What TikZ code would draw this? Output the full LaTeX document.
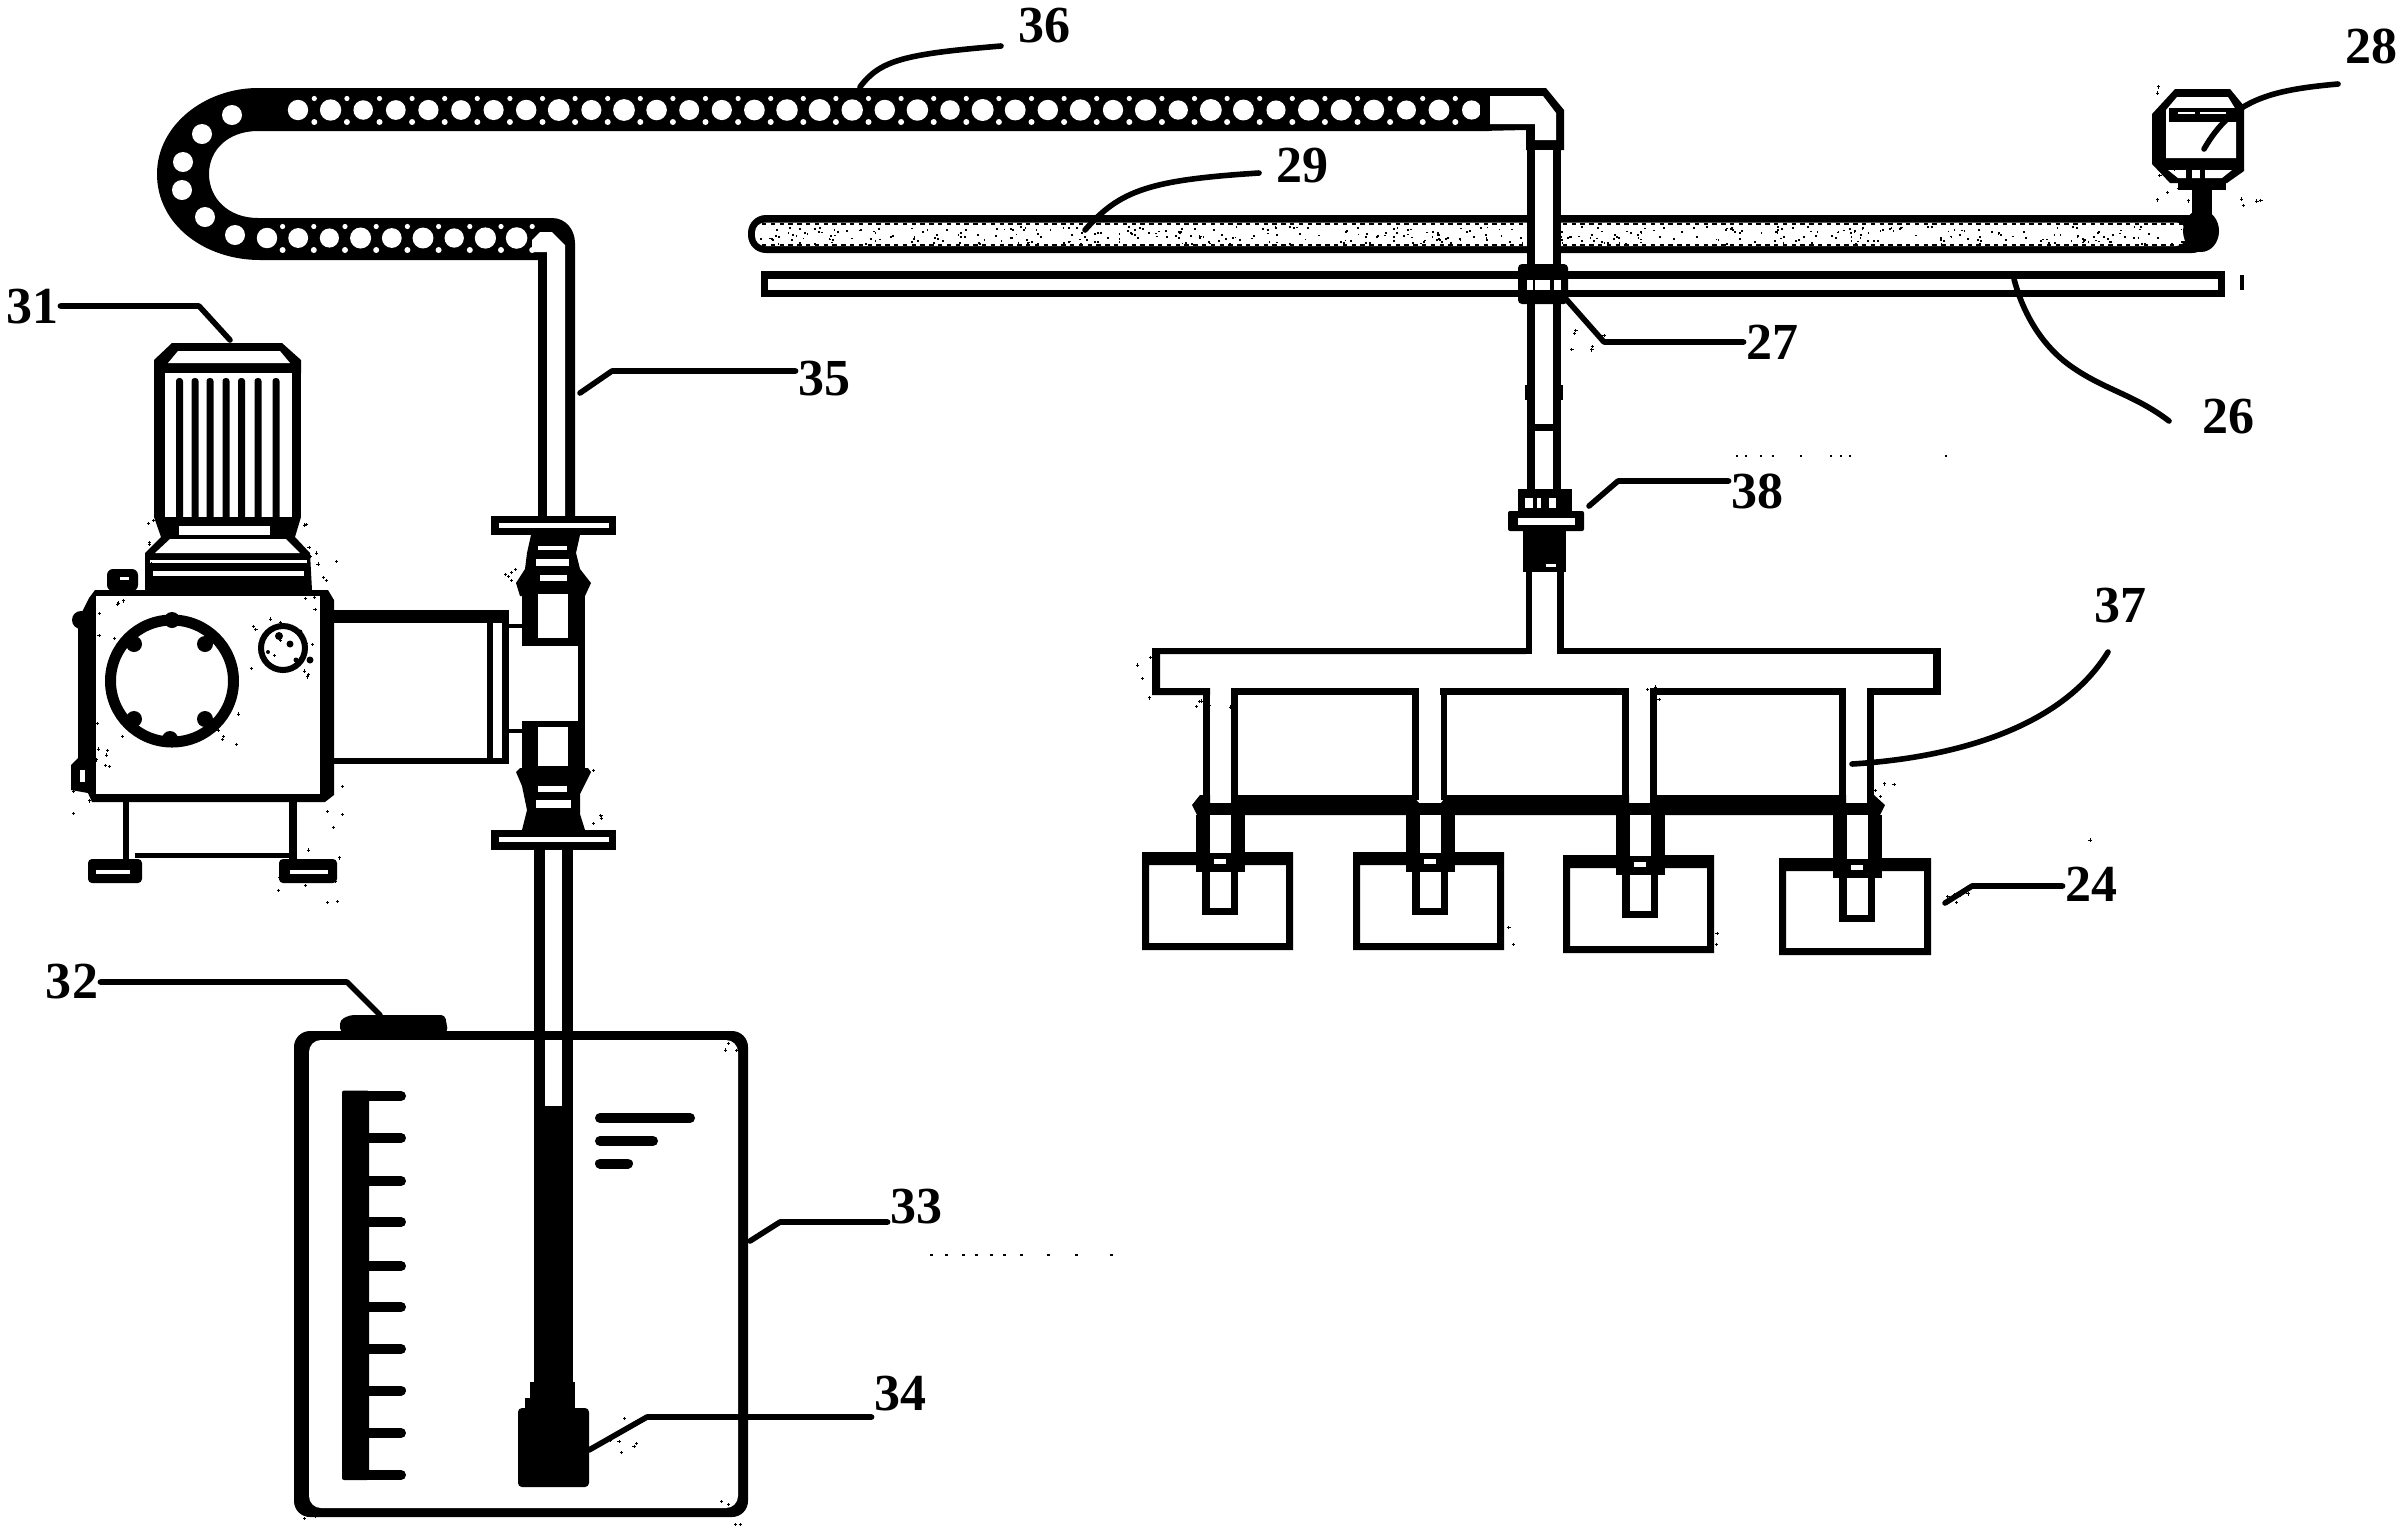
\documentclass[tikz,border=0pt]{standalone}
\usepackage{fontspec}
\setmainfont{Liberation Serif}
\newcommand{\blk}[4]{\fill[black] (#1,#2) rectangle (#3,#4);}
\newcommand{\wht}[4]{\fill[white] (#1,#2) rectangle (#3,#4);}
\newcommand{\specks}[5]{\foreach \i in {1,...,#5}{\pgfmathsetmacro\sx{#1+rnd*(#3-#1)}\pgfmathsetmacro\sy{#2+rnd*(#4-#2)}\fill[black] (\sx-1.6,\sy-.5) rectangle +(3.2,1);\fill[black] (\sx-.5,\sy-1.6) rectangle +(1,3.2);}}
\newcommand{\holes}[5]{\foreach \k in {0,...,#4}{\pgfmathsetmacro\hx{#1+\k*#3}\pgfmathsetmacro\hr{#5-1.5*rnd}\fill[white] (\hx,#2) circle[radius=\hr];\fill[white] (\hx+.5*#3,#2-11.5) circle[radius=2.6];\fill[white] (\hx+.5*#3,#2+12) circle[radius=3];}}
\newcommand{\unit}[6]{% box and dip tube: box x0 x1 ytop, ybottom, stem centre, stem bottom
\fill[black,even odd rule] (#1,#2) rectangle (#3,#4) (#1+7,#2+13) rectangle (#3-7,#4-7);
\blk{#5-24.5}{815}{#5+24.5}{#2+1}
\wht{#5-10.5}{815}{#5+10.5}{#2+1}
\blk{#5-24.5}{#2+12}{#5+24.5}{#2+20}
\blk{#5-18}{#2+20}{#5+18}{#6}
\wht{#5-10.5}{#2+20}{#5+10.5}{#6-7}
\blk{#5-10.5}{#2+1}{#5+10.5}{#2+20}
\wht{#5-6}{#2+7}{#5+6}{#2+12}
}
\tikzset{
  leader/.style={line width=2.8pt,black,line join=round,line cap=round},
  lab/.style={font=\fontsize{26}{26}\selectfont\bfseries,inner sep=1pt,text=black}
}
\begin{document}
\begin{tikzpicture}[x=0.5pt,y=-0.5pt]
\useasboundingbox (0,0) rectangle (2402,1538);
\fill[white] (0,0) rectangle (2402,1538);
\pgfmathsetseed{41}

%%% tank 33
\fill[black,even odd rule,rounded corners=8pt] (294,1031) rectangle (748,1517);
\fill[white,rounded corners=6pt] (309,1040) rectangle (738,1508);
\fill[black,rounded corners=2pt] (340,1032) -- (340,1020) -- (350,1015) -- (445,1015) -- (448,1032) -- cycle;
% scale
\fill[black,rounded corners=1pt] (342,1090.5) rectangle (369,1480);
\foreach \yy in {1096,1138,1181,1222,1266,1307,1349,1390.5,1433,1475}{\draw[black,line width=5pt,line cap=round] (365,\yy) -- (401,\yy);}
% liquid level
\draw[black,line width=5pt,line cap=round] (600,1118) -- (690,1118);
\draw[black,line width=5pt,line cap=round] (600,1141) -- (653,1141);
\draw[black,line width=5pt,line cap=round] (600,1163.5) -- (628,1163.5);
% suction pipe
\blk{534}{850}{573}{1382}
\wht{545}{850}{562}{1106}
\blk{534}{1031}{573}{1040}
\blk{530}{1382}{575}{1408}
\fill[black,rounded corners=2pt] (518,1487) rectangle (589,1408);
\blk{525}{1398}{530}{1410}

%%% drag chain 36 + pipe 35
\fill[black] (1489,88) -- (258,88) .. controls (205,88) and (157,125) .. (157,174)
  .. controls (157,225) and (205,260) .. (260,260) -- (538,260) -- (538,516) -- (575,516) -- (575,243) .. controls (575,230) and (566,218) .. (552,218)
  -- (258,218) .. controls (228,218) and (209,198) .. (209,174) .. controls (209,150) and (228,131) .. (258,131) -- (1489,131) -- cycle;
\fill[white] (532,240) -- (540,232) -- (552,232) -- (565,245) -- (565,516) -- (547,516) -- (547,252) -- (532,252) -- cycle;
\holes{298}{110}{32.6}{36}{11}
\holes{267}{238}{31.2}{8}{11}
\foreach \px/\py in {232/115,202/134,183/162,182/190,205/217,235/235}{\fill[white] (\px,\py) circle[radius=10];}
% elbow at upper right
\fill[black] (1480,88) -- (1546,88) -- (1564,110) -- (1564,150) -- (1526,150) -- (1526,130) -- (1480,131) -- cycle;
\fill[white] (1490,96) -- (1543,96) -- (1556,113) -- (1556,140) -- (1535,140) -- (1535,124) -- (1490,124) -- cycle;

%%% tube 29
\fill[black,rounded corners=9pt] (748,215) rectangle (2210,253);
\fill[white,rounded corners=5pt] (755,222.5) rectangle (2186,246);
\draw[black,line width=1pt,dash pattern=on 2.2pt off 2.2pt] (762,223.5) -- (2184,223.5);
\draw[black,line width=1pt,dash pattern=on 2.2pt off 2.2pt] (762,245) -- (2184,245);
\foreach \i in {1,...,420}{\pgfmathsetmacro\sx{760+rnd*1424}\pgfmathsetmacro\sy{226+rnd*17}\fill[black] (\sx,\sy) rectangle +(1.8,1.8);}
\fill[black] (2201,231) ellipse[x radius=18,y radius=21];

%%% rail 26
\draw[black,line width=3.6pt] (764.5,275) rectangle (2221.5,293.5);

%%% vertical pipe down to the manifold
\wht{1527}{150}{1561}{648}
\blk{1527}{150}{1535}{535}
\blk{1553}{150}{1561}{535}
\blk{1527}{424}{1561}{431}
\blk{1525}{385}{1535}{400}
\blk{1553}{385}{1563}{400}
\blk{1526}{535}{1532}{654}
\blk{1557}{535}{1564}{654}

% block 27
\fill[black,rounded corners=2pt] (1518,264) rectangle (1568,304);
\wht{1527}{280}{1533}{290}
\wht{1535}{280}{1550}{290}
\wht{1554}{280}{1561}{290}

% fitting 38
\blk{1518}{489}{1572}{511}
\wht{1525}{498}{1533}{508}
\wht{1537}{498}{1541}{508}
\wht{1549}{498}{1556}{508}
\fill[black,rounded corners=1pt] (1508,511) rectangle (1584,531);
\wht{1518}{518}{1575}{525}
\blk{1523}{531}{1566}{572}
\wht{1546}{564}{1556}{567}

%%% instrument 28
\fill[black] (2175,89) -- (2230,89) -- (2244,106) -- (2244,171) -- (2227,183) -- (2170,183) -- (2152,164) -- (2152,114) -- cycle;
\fill[white] (2177,97) -- (2228,97) -- (2236,110) -- (2236,158) -- (2166,158) -- (2166,110) -- cycle;
\blk{2169}{108}{2238}{122}
\wht{2178}{112}{2195}{114}\wht{2200}{112}{2226}{114}
\fill[white] (2168,170) -- (2232,170) -- (2222,178) -- (2178,178) -- cycle;
\blk{2186}{168}{2192}{182}\blk{2200}{168}{2205}{182}
\blk{2178}{183}{2226}{190}
\blk{2192}{183}{2212}{215}

%%% manifold
\fill[black] (1152,648) -- (1526,648) -- (1526,654) -- (1160,654) -- (1160,688) -- (1210,688) -- (1210,695) -- (1160,695) -- (1152,695) -- cycle;
\blk{1152}{688}{1203}{695}
\blk{1231}{688}{1419}{695}
\blk{1441}{688}{1629}{695}
\blk{1650}{688}{1846}{695}
\blk{1867}{688}{1941}{695}
\blk{1564}{648}{1941}{654}
\blk{1933}{648}{1941}{695}
\foreach \sl in {1203,1412,1622,1839}{
  \blk{\sl}{688}{\sl+7}{800}
  \blk{\sl+28}{688}{\sl+35}{800}
}
\wht{1210}{695}{1231}{803}
\wht{1419}{695}{1441}{803}
\wht{1629}{695}{1650}{803}
\wht{1846}{695}{1867}{803}
% cross bar
\fill[black] (1192,805) -- (1200,795) -- (1210,795) -- (1210,803) -- (1231,803) -- (1231,795) -- (1412,795) -- (1419,803) -- (1441,803) -- (1447,795)
 -- (1622,795) -- (1629,795) -- (1629,803) -- (1650,803) -- (1650,795) -- (1839,795) -- (1846,795) -- (1846,803) -- (1867,803) -- (1867,795) -- (1874,795) -- (1885,805) -- (1880,815) -- (1197,815) -- cycle;
% boxes and dip tubes
\unit{1142}{852}{1293}{950}{1220}{915}
\unit{1353}{852}{1504}{950}{1430}{915}
\unit{1563}{855}{1714}{953}{1640}{918}
\unit{1779}{858}{1931}{955}{1857}{922}

%%% flanges and pump head
\blk{491}{516}{616}{535}\wht{499}{523}{609}{528}
\blk{491}{830}{616}{850}\wht{499}{837}{609}{842}
\fill[black] (531,535) -- (580,535) -- (576,553) -- (580,569) -- (591,583) -- (585,596) -- (520,596) -- (516,583) -- (525,569) -- (527,553) -- cycle;
\wht{538}{546}{567}{550}\wht{536}{559}{569}{566}\wht{540}{575}{567}{581}
\blk{522}{594}{585}{646}\wht{538}{594}{568}{638}
\blk{578}{646}{585}{721}
\blk{522}{721}{585}{770}\wht{538}{727}{568}{766}
\fill[black] (516,772) -- (520,768) -- (588,768) -- (591,772) -- (580,794) -- (580,814) -- (585,830) -- (522,830) -- (527,810) -- (522,786) -- cycle;
\wht{538}{786}{567}{792}\wht{536}{800}{571}{808}
% cylinder
\blk{334}{610}{509}{623}
\blk{334}{758}{509}{764}
\blk{487}{623}{493}{758}
\blk{502}{623}{509}{758}
\blk{502}{624}{522}{628}
\blk{502}{729}{522}{733}

%%% gearbox
\fill[black] (89,598) -- (78,620) -- (78,758) -- (71,765) -- (71,790) -- (88,793) -- (92,802) -- (325,802) -- (334,795) -- (334,600) -- (328,590) -- (95,590) -- cycle;
\wht{96}{596}{320}{794}
\wht{80}{770}{85}{782}
\fill[black] (81,620) circle[radius=9];
\fill[black,rounded corners=3pt] (107,569) rectangle (138,591);
\wht{120}{577}{129}{580}
\draw[black,line width=5.5pt] (172,681) ellipse[x radius=61.5,y radius=61];
\foreach \bx/\by in {134/644,205/644,134/719,205/719,170/739,172/620}{\fill[black] (\bx,\by) circle[radius=8];}
\draw[black,line width=3pt] (283,648) circle[radius=22];
\foreach \bx/\by/\br in {279/636/4,290/644/3.5,310/660/3.5,268/652/2,300/632/2.5,296/660/2.5}{\fill[black] (\bx,\by) circle[radius=\br];}
% legs and feet
\blk{123}{802}{129}{859}
\blk{289}{802}{297}{859}
\blk{135}{853}{290}{858}
\fill[black,rounded corners=2pt] (88,859) rectangle (142,883);
\wht{96}{870}{130}{874}
\fill[black,rounded corners=2pt] (279,859) rectangle (337,883);
\wht{290}{870}{328}{874}

%%% motor
\fill[black] (154,373) -- (154,360) -- (172,343) -- (282,343) -- (301,360) -- (301,373) -- cycle;
\fill[white] (168,363) -- (178,351) -- (280,351) -- (290,363) -- cycle;
\blk{154}{373}{301}{517}
\wht{165}{373}{292}{517}
\foreach \fx in {179.5,195,210,226,241.5,258,276}{\fill[black,rounded corners=1.5pt] (\fx-3.5,378) rectangle (\fx+3.5,520);}
\fill[black] (154,517) -- (301,517) -- (295,537) -- (310,553) -- (312,590) -- (145,590) -- (145,553) -- (161,537) -- cycle;
\wht{179}{526}{270}{535}
\fill[white] (170,539) -- (286,539) -- (300,553) -- (155,553) -- cycle;
\wht{150}{560}{307}{563}
\wht{153}{571}{304}{576}

%%% noise as printed, close to the outlines
\specks{135}{505}{155}{565}{6}
\specks{302}{500}{322}{560}{6}
\specks{305}{560}{340}{615}{10}
\specks{96}{596}{125}{640}{6}
\specks{250}{618}{318}{680}{14}
\specks{96}{720}{130}{770}{8}
\specks{215}{700}{245}{750}{7}
\specks{320}{780}{345}{830}{6}
\specks{268}{850}{345}{905}{10}
\specks{70}{790}{100}{815}{3}
\specks{495}{545}{520}{590}{5}
\specks{588}{770}{602}{830}{4}
\specks{2145}{160}{2190}{215}{9}
\specks{2228}{190}{2270}{210}{4}
\specks{2150}{85}{2165}{100}{2}
\specks{1570}{305}{1610}{350}{6}
\specks{1135}{655}{1165}{700}{4}
\specks{1195}{690}{1240}{710}{6}
\specks{1622}{680}{1660}{700}{4}
\specks{1500}{920}{1530}{960}{2}
\specks{1690}{930}{1720}{955}{3}
\specks{2090}{840}{2090}{840}{1}
\specks{1875}{780}{1895}{830}{4}
\specks{1945}{890}{1970}{905}{6}
\specks{520}{1395}{530}{1480}{3}
\specks{725}{1030}{745}{1055}{3}
\specks{720}{1500}{745}{1525}{4}
\specks{296}{1505}{320}{1530}{3}
\specks{590}{1395}{650}{1460}{8}
\foreach \sx in {1736,1745,1760,1772,1800,1830,1840,1849,1945}{\fill[black] (\sx,455) rectangle +(2,2);}
\foreach \sx in {930,945,962,975,990,1003,1020,1047,1075,1110}{\fill[black] (\sx,1254) rectangle +(2.5,2);}
\fill[black] (2240,275) rectangle (2244,290);

%%% labels and leaders
\node[lab] (l36) at (1044,26) {36};
\node[lab] (l28) at (2371,46) {28};
\node[lab] (l29) at (1302,166) {29};
\node[lab] (l31) at (32,307) {31};
\node[lab] (l27) at (1772,342) {27};
\node[lab] (l35) at (824,379) {35};
\node[lab] (l26) at (2228,417) {26};
\node[lab] (l38) at (1757,491) {38};
\node[lab] (l37) at (2120,606) {37};
\node[lab] (l24) at (2091,884) {24};
\node[lab] (l32) at (72,982) {32};
\node[lab] (l33) at (916,1207) {33};
\node[lab] (l34) at (900,1394) {34};

\coordinate (e36) at (860,87);
\coordinate (t36) at (1001,46);
\coordinate (e28) at (2204,149);
\coordinate (t28) at (2338,84);
\coordinate (e29) at (1085,230);
\coordinate (t29) at (1259,173);
\coordinate (e26) at (2014,279);
\coordinate (e37) at (1852,764);
\coordinate (t37) at (2108,652);
\draw[leader] (e36) .. controls (880,60) and (905,54) .. (t36);
\draw[leader] (e28) .. controls (2232,100) and (2270,90) .. (t28);
\draw[leader] (e29) .. controls (1120,190) and (1150,180) .. (t29);
\draw[leader] (e26) .. controls (2022,310) and (2040,345) .. (2072,367) .. controls (2105,390) and (2135,395) .. (2169,421);
\draw[leader] (e37) .. controls (1950,758) and (2060,730) .. (t37);
\coordinate (k31a) at (199,306); \coordinate (k31b) at (230,340);
\draw[leader] (l31.east |- k31a) -- (k31a) -- (k31b);
\coordinate (k27a) at (1604,342); \coordinate (k27b) at (1566,299);
\draw[leader] (l27.west |- k27a) -- (k27a) -- (k27b);
\coordinate (k35a) at (612,371); \coordinate (k35b) at (580,393);
\draw[leader] (l35.west |- k35a) -- (k35a) -- (k35b);
\coordinate (k38a) at (1618,481); \coordinate (k38b) at (1589,506);
\draw[leader] (l38.west |- k38a) -- (k38a) -- (k38b);
\coordinate (k24a) at (1972,886); \coordinate (k24b) at (1945,903);
\draw[leader] (l24.west |- k24a) -- (k24a) -- (k24b);
\coordinate (k32a) at (347,982); \coordinate (k32b) at (380,1015);
\draw[leader] (l32.east |- k32a) -- (k32a) -- (k32b);
\coordinate (k33a) at (780,1222); \coordinate (k33b) at (750,1241);
\draw[leader] (l33.west |- k33a) -- (k33a) -- (k33b);
\coordinate (k34a) at (647,1417); \coordinate (k34b) at (589,1450);
\draw[leader] (l34.west |- k34a) -- (k34a) -- (k34b);
\end{tikzpicture}
\end{document}
